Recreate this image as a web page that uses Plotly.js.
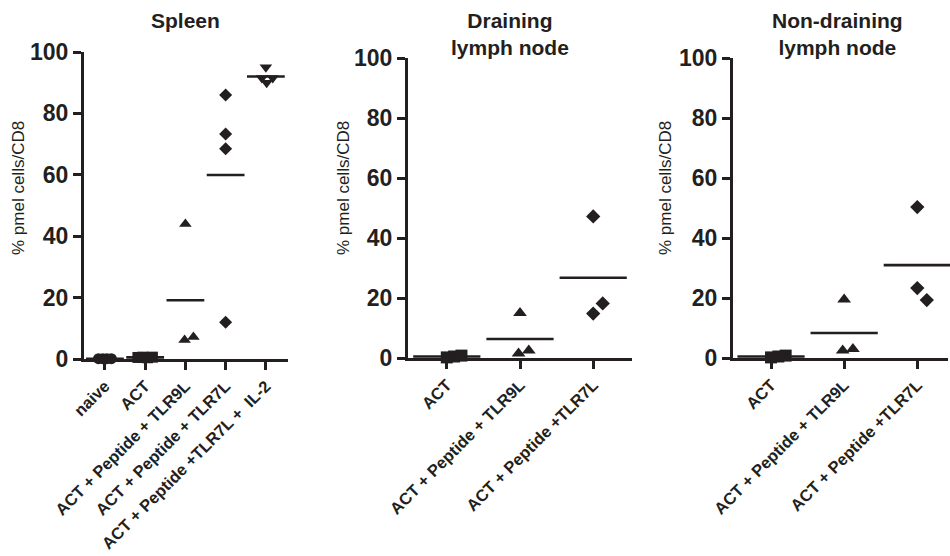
<!DOCTYPE html>
<html>
<head>
<meta charset="utf-8">
<script src="https://cdn.plot.ly/plotly-3.0.1.min.js"></script>
<style>html,body{margin:0;padding:0;background:#fff;}#chart{width:950px;height:556px;}</style>
</head>
<body>
<div id="chart"></div>
<script>
// ---- Data ----
var spleenGroups = ["naive", "ACT", "ACT + Peptide + TLR9L", "ACT + Peptide + TLR7L", "ACT + Peptide +TLR7L +  IL-2"];
var spleenNaive = [0.1, 0.1, 0.1, 0.1];
var spleenACT = [0.5, 0.6, 0.4, 0.6];
var spleenTLR9L = [44, 6.2, 7.2];
var spleenTLR7L = [86, 73.3, 68.5, 12];
var spleenIL2 = [95, 91.5, 90, 91.5];

var dlnGroups = ["ACT", "ACT + Peptide + TLR9L", "ACT + Peptide +TLR7L"];
var dlnACT = [0.2, 0.5, 0.8];
var dlnTLR9L = [15, 1.5, 2.5];
var dlnTLR7L = [47.2, 18.2, 14.8];

var ndlnGroups = ["ACT", "ACT + Peptide + TLR9L", "ACT + Peptide +TLR7L"];
var ndlnACT = [0.2, 0.5, 0.8];
var ndlnTLR9L = [19.5, 2.5, 3];
var ndlnTLR7L = [50.3, 19.3, 23.3];

var yTicks = [0, 20, 40, 60, 80, 100];

// ---- Styling / layout helpers (horizontal scatter offsets within a group) ----
var jitter = {
  s0: [-0.16, -0.05, 0.05, 0.16],
  s1: [-0.18, -0.06, 0.06, 0.18],
  s2: [0, -0.02, 0.2],
  s3: [0, 0, 0, 0],
  s4: [0, -0.1, 0.02, 0.17],
  a0: [0, 0.1, 0.2],
  a1: [0, -0.02, 0.12],
  a2: [0, 0.13, 0]
};

var INK = '#231f20';
var FONT = 'Arial, "Liberation Sans", Helvetica, sans-serif';

function mean(a) { var s = 0; for (var i = 0; i < a.length; i++) s += a[i]; return s / a.length; }

var traces = [];
function addGroup(vals, idx, off, symbol, size, xa, ya, lineW) {
  traces.push({
    type: 'scatter', mode: 'markers', xaxis: xa, yaxis: ya, cliponaxis: false,
    x: vals.map(function (v, i) { return idx + off[i]; }), y: vals,
    marker: { symbol: symbol, size: size, color: INK, line: { width: 0 } },
    hoverinfo: 'y', showlegend: false
  });
  traces.push({
    type: 'scatter', mode: 'markers', xaxis: xa, yaxis: ya, cliponaxis: false,
    x: [idx], y: [mean(vals)],
    marker: { symbol: 'line-ew', size: lineW, color: INK, line: { width: 2.6, color: INK } },
    hoverinfo: 'y', showlegend: false
  });
}

addGroup(spleenNaive, 0, jitter.s0, 'circle', 11, 'x', 'y', 27);
addGroup(spleenACT, 1, jitter.s1, 'square', 11, 'x', 'y', 27);
addGroup(spleenTLR9L, 2, jitter.s2, 'triangle-up', 11, 'x', 'y', 27);
addGroup(spleenTLR7L, 3, jitter.s3, 'diamond', 10, 'x', 'y', 27);
addGroup(spleenIL2, 4, jitter.s4, 'triangle-down', 11, 'x', 'y', 27);

addGroup(dlnACT, 0, jitter.a0, 'square', 12, 'x2', 'y2', 48);
addGroup(dlnTLR9L, 1, jitter.a1, 'triangle-up', 12, 'x2', 'y2', 48);
addGroup(dlnTLR7L, 2, jitter.a2, 'diamond', 11, 'x2', 'y2', 48);

addGroup(ndlnACT, 0, jitter.a0, 'square', 12, 'x3', 'y3', 48);
addGroup(ndlnTLR9L, 1, jitter.a1, 'triangle-up', 12, 'x3', 'y3', 48);
addGroup(ndlnTLR7L, 2, jitter.a2, 'diamond', 11, 'x3', 'y3', 48);

function xAxis(domain, groups, range, anchor) {
  return {
    domain: domain, anchor: anchor, range: range, type: 'linear',
    tickmode: 'array', tickvals: groups.map(function (g, i) { return i; }), ticktext: groups,
    tickangle: -45, ticks: 'outside', ticklen: 8, tickwidth: 3, tickcolor: INK,
    showline: true, linewidth: 3, linecolor: INK, showgrid: false, zeroline: false,
    tickfont: { family: FONT, size: 16.5, color: INK, weight: 'bold' }, fixedrange: true
  };
}
function yAxis(domain, anchor) {
  return {
    domain: domain, anchor: anchor, range: [0, 100],
    tickmode: 'array', tickvals: yTicks, ticktext: yTicks.map(String),
    ticks: 'outside', ticklen: 8, tickwidth: 3, tickcolor: INK,
    showline: true, linewidth: 3, linecolor: INK, showgrid: false, zeroline: false,
    tickfont: { family: FONT, size: 23, color: INK, weight: 'bold' }, fixedrange: true
  };
}

var W = 950, H = 556;
function fx(px) { return px / W; }
function fy(px) { return 1 - px / H; }

var layout = {
  width: W, height: H, margin: { l: 0, r: 0, t: 0, b: 0 },
  paper_bgcolor: '#fff', plot_bgcolor: '#fff', showlegend: false,
  font: { family: FONT, color: INK },
  xaxis: xAxis([fx(84), fx(288)], spleenGroups, [-0.52, 4.55], 'y'),
  yaxis: yAxis([fy(359), fy(52)], 'x'),
  xaxis2: xAxis([fx(408), fx(632)], dlnGroups, [-0.53, 2.53], 'y2'),
  yaxis2: yAxis([fy(358), fy(58)], 'x2'),
  xaxis3: xAxis([fx(733), fx(948)], ndlnGroups, [-0.52, 2.42], 'y3'),
  yaxis3: yAxis([fy(358), fy(58)], 'x3'),
  annotations: [
    { text: 'Spleen', xref: 'paper', yref: 'paper', x: fx(185), y: fy(20), showarrow: false,
      font: { family: FONT, size: 21, weight: 'bold', color: INK }, xanchor: 'center', yanchor: 'middle' },
    { text: 'Draining<br>lymph node', xref: 'paper', yref: 'paper', x: fx(510), y: fy(34), showarrow: false,
      font: { family: FONT, size: 21, weight: 'bold', color: INK }, xanchor: 'center', yanchor: 'middle' },
    { text: 'Non-draining<br>lymph node', xref: 'paper', yref: 'paper', x: fx(837), y: fy(34), showarrow: false,
      font: { family: FONT, size: 21, weight: 'bold', color: INK }, xanchor: 'center', yanchor: 'middle' },
    { text: '% pmel cells/CD8', xref: 'paper', yref: 'paper', x: fx(18), y: fy(188), showarrow: false, textangle: -90,
      font: { family: FONT, size: 17, color: INK }, xanchor: 'center', yanchor: 'middle' },
    { text: '% pmel cells/CD8', xref: 'paper', yref: 'paper', x: fx(343), y: fy(188), showarrow: false, textangle: -90,
      font: { family: FONT, size: 17, color: INK }, xanchor: 'center', yanchor: 'middle' },
    { text: '% pmel cells/CD8', xref: 'paper', yref: 'paper', x: fx(665), y: fy(188), showarrow: false, textangle: -90,
      font: { family: FONT, size: 17, color: INK }, xanchor: 'center', yanchor: 'middle' }
  ]
};

Plotly.newPlot('chart', traces, layout, { displayModeBar: false, staticPlot: true });
</script>
</body>
</html>
